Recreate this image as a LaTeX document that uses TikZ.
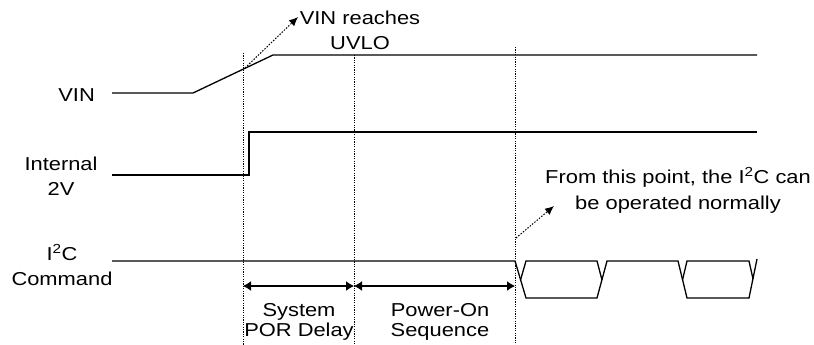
\documentclass[tikz,border=0pt]{standalone}
\usepackage{fontspec}
\setmainfont{Liberation Sans}[FakeStretch=1.17]
\usetikzlibrary{arrows.meta, positioning}

\begin{document}
\begin{tikzpicture}[
  x=1pt, y=-1pt,
  wave/.style={line width=1.3pt},
  marker/.style={dash pattern=on 1.2pt off 1.2pt, line width=1pt},
  lbl/.style={font=\fontsize{18.7}{25}\selectfont, align=center, inner sep=0pt},
  span/.style={lbl, font=\fontsize{18.7}{20}\selectfont},
  dim/.style={{Latex[length=8pt,width=10pt]}-{Latex[length=8pt,width=10pt]}, line width=1.3pt},
  note/.style={-{Latex[length=9pt,width=8pt]}, dash pattern=on 1.5pt off 1.5pt, line width=1pt}
]
\useasboundingbox (0,0) rectangle (814,345);

% signal names
\node[lbl, anchor=base east] (vin) at (95,101.5) {VIN};
\node[lbl, anchor=base] (int) at (61,195) {Internal\\2V};
\node[lbl, anchor=base] (i2c) at (62,285) {I\textsuperscript{2}C\\Command};

% waveforms
\draw[wave] (112,93) -- (193,93) -- (273,55) -- (757,55);
\draw[wave] (112,175) -- (249,175) -- (249,132) -- (757,132);
\draw[wave] (112,261) -- (515,261) -- (526,298) -- (597,298) -- (607,261)
  -- (678,261) -- (687,298) -- (749,298) -- (757,259);
\draw[wave] (520.5,280) -- (526,261) -- (597,261) -- (602,280);
\draw[wave] (682.5,280) -- (687,261) -- (749,261) -- (753,279);

% time markers
\coordinate (por) at (243,286);
\coordinate (seq) at (354,286);
\coordinate (ready) at (515,286);
\draw[marker] (243,53) -- (243,345);
\draw[marker] (354,55) -- (354,345);
\draw[marker] (515,47) -- (515,345);

\draw[dim] (por) -- (seq);
\draw[dim] (seq) -- (ready);
\node[span, anchor=base] (delay) at (299,336) {System\\POR Delay};
\node[span, anchor=base] (power) at (440,336) {Power-On\\Sequence};

% notes
\node[lbl, anchor=base] (uvlotxt) at (360,50) {VIN reaches\\UVLO};
\coordinate (uvlo) at (245,68);
\coordinate (uvlotip) at (298,17);
\draw[note] (uvlo) -- (uvlotip);

\node[lbl, anchor=base, font=\fontsize{18.7}{26}\selectfont] (normal) at (678,209)
  {From this point, the I\textsuperscript{2}C can\\be operated normally};
\coordinate (start) at (516,238);
\coordinate (starttip) at (554,206);
\draw[note] (start) -- (starttip);
\end{tikzpicture}
\end{document}
